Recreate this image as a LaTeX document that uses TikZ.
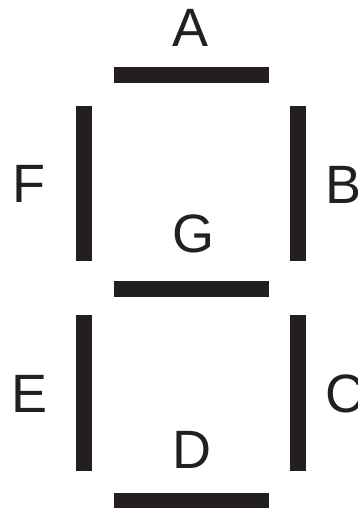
\documentclass[tikz,border=0pt]{standalone}
\usepackage{fontspec}
\setmainfont{Liberation Sans}
\definecolor{segc}{HTML}{231F20}
\begin{document}
\begin{tikzpicture}[x=1pt,y=-1pt,
  seg/.style={fill=segc},
  lbl/.style={anchor=base,inner sep=0pt,text=segc,font=\fontsize{54}{54}\selectfont}]
\useasboundingbox (0,0) rectangle (357,508);
\clip (0,0) rectangle (357,508);
% segments
\fill[seg] (114,67.5) rectangle (269,83.5);   % A
\fill[seg] (289.5,106) rectangle (305.5,261); % B
\fill[seg] (289.5,315) rectangle (305.5,471); % C
\fill[seg] (114,492.5) rectangle (269,508.5); % D
\fill[seg] (76,315) rectangle (92,471);       % E
\fill[seg] (76,106) rectangle (92,261);       % F
\fill[seg] (114,280.5) rectangle (269,296.5); % G
% labels
\node[lbl] (lA) at (190.5,47) {A};
\node[lbl] (lB) at (344,203) {B};
\node[lbl] (lC) at (345,412) {C};
\node[lbl] (lD) at (191.5,468) {D};
\node[lbl] (lE) at (30,412) {E};
\node[lbl] (lF) at (29,202) {F};
\node[lbl] (lG) at (193.5,252) {G};
\end{tikzpicture}
\end{document}
